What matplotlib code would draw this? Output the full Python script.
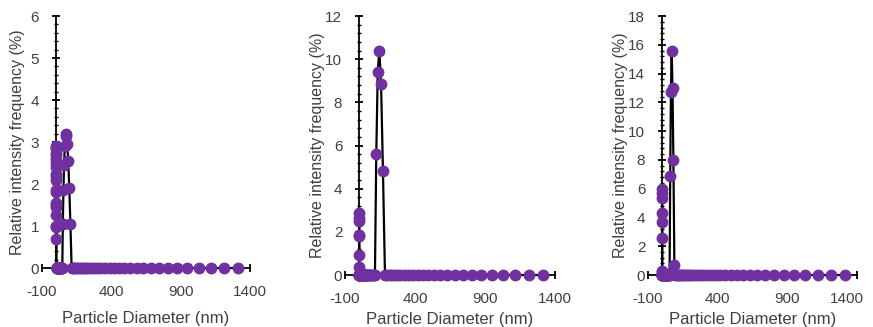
import matplotlib.pyplot as plt
import matplotlib.transforms as mtransforms
from matplotlib.ticker import MultipleLocator

plt.rcParams['font.family'] = ['Liberation Sans', 'DejaVu Sans']
plt.rcParams['axes.unicode_minus'] = False

# size bins (nm)
diameter = [0.92, 1.00, 1.09, 1.18, 1.28, 1.39, 1.51, 1.64, 1.77, 1.93,
            2.09, 2.27, 2.46, 2.67, 2.90, 3.14, 3.41, 3.70, 4.01, 4.35,
            4.72, 5.12, 5.56, 6.03, 6.55, 7.10, 7.71, 8.36, 9.07, 9.84,
            10.7, 11.6, 12.6, 13.6, 14.8, 16.1, 17.4, 18.9, 20.5, 22.3,
            24.1, 26.2, 28.4, 30.8, 33.5, 36.3, 39.4, 42.7, 46.4, 50.3,
            54.6, 59.2, 64.3, 69.7, 75.7, 82.1, 89.1, 96.6, 104.9, 113.8,
            123.4, 133.9, 145.3, 157.7, 171.1, 185.6, 201.4, 218.5, 237.1, 257.2,
            279.1, 302.8, 328.6, 356.5, 386.8, 419.7, 455.3, 494.0, 536.1, 581.6,
            631.0, 684.7, 742.9, 806.0, 874.5, 948.8, 1029.5, 1117.0, 1212.0, 1315.0]

# relative intensity frequency (%) for each sample; bins not listed are 0
freq_a = [0.70, 0.98, 1.26, 1.50, 1.55, 1.80, 2.10, 2.20, 2.40, 2.60,
          2.75, 2.85, 2.90, 2.85, 2.70, 2.50, 2.25, 1.85, 1.45, 1.00,
          0, 0, 0, 0, 0, 0, 0, 0, 0, 0,
          0, 0, 0, 0, 0, 0, 0, 0, 0, 0,
          0, 0, 0, 0, 0, 0, 0, 0, 0, 1.05,
          1.85, 2.45, 2.90, 3.15, 3.20, 2.95, 2.55, 1.90, 1.05, 0]
freq_b = [0.35, 0.95, 1.85, 2.50, 2.85, 2.65, 1.80, 0, 0, 0,
          0, 0, 0, 0, 0, 0, 0, 0, 0, 0,
          0, 0, 0, 0, 0, 0, 0, 0, 0, 0,
          0, 0, 0, 0, 0, 0, 0, 0, 0, 0,
          0, 0, 0, 0, 0, 0, 0, 0, 0, 0,
          0, 0, 0, 0, 0, 0, 0, 0, 0, 0,
          5.60, 9.40, 10.40, 8.85, 4.80, 0]
freq_c = [0.25, 2.55, 4.33, 5.67, 5.95, 5.33, 3.70, 0.20, 0, 0,
          0, 0, 0, 0, 0, 0, 0, 0, 0, 0,
          0, 0, 0, 0, 0, 0, 0, 0, 0, 0,
          0, 0, 0, 0, 0, 0, 0, 0, 0, 0,
          0, 0, 0, 0, 0, 0, 0, 0, 0, 0,
          0, 6.90, 12.70, 15.60, 13.00, 8.00, 0.70, 0]

samples = [freq_a, freq_b, freq_c]
y_max = [6, 12, 18]
y_step = [1, 2, 2]
x_ticks = [-100, 400, 900, 1400]

boxes = [[0.0481, 0.1804, 0.2383, 0.7706],
         [0.3952, 0.1590, 0.2405, 0.7920],
         [0.7423, 0.1590, 0.2394, 0.7920]]

text_col = '#404040'
purple = '#7030A0'

fig = plt.figure(figsize=(8.73, 3.27), dpi=100)

for i in range(3):
    ax = fig.add_axes(boxes[i])
    y = samples[i] + [0] * (len(diameter) - len(samples[i]))
    ax.plot(diameter, y, color='black', lw=1.6, marker='o', ms=7.5,
            mfc=purple, mec=purple, clip_on=False, zorder=3)

    ax.set_xlim(-100, 1400)
    ax.set_ylim(0, y_max[i])
    ax.set_xticks(x_ticks)
    ax.yaxis.set_major_locator(MultipleLocator(y_step[i]))
    ax.yaxis.set_minor_locator(MultipleLocator(y_step[i] / 5))

    ax.spines['left'].set_position(('data', 0))
    ax.spines['top'].set_visible(False)
    ax.spines['right'].set_visible(False)
    for s in ['left', 'bottom']:
        ax.spines[s].set_linewidth(1.3)

    ax.tick_params(axis='both', which='major', direction='inout', length=6,
                   width=1.3, labelsize=11, labelcolor=text_col)
    ax.tick_params(axis='y', which='major', pad=9)
    ax.tick_params(axis='x', which='major', pad=9)
    ax.tick_params(axis='y', which='minor', direction='inout', length=3.5, width=1)

    ax.set_xlabel('Particle Diameter (nm)', fontsize=12, color=text_col)
    ax.set_ylabel('Relative intensity frequency (%)', fontsize=11.5, color=text_col)
    h = boxes[i][3] * 327
    w = boxes[i][2] * 873
    ax.xaxis.set_label_coords(0.5, -(50.0 if i == 0 else 44.0) / h)
    ax.xaxis.label.set_va('center')
    ax.yaxis.set_label_coords(-(24.0 if i == 0 else 28.0) / w, 0.5)
    ax.yaxis.label.set_va('center')

    if i == 2:
        # last label sits at the picture edge, nudge it inwards
        fig.canvas.draw()
        lab = ax.get_xticklabels()[-1]
        lab.set_transform(lab.get_transform() +
                          mtransforms.ScaledTranslation(-10 / 100, 0, fig.dpi_scale_trans))

plt.savefig('out.png', dpi=100)
